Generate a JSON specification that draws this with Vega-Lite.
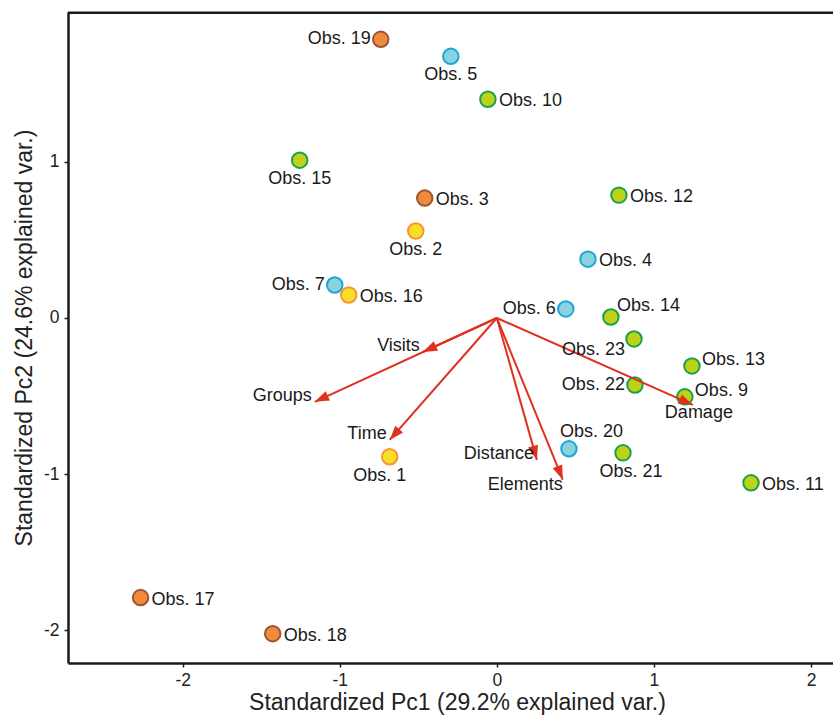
{
  "$schema": "https://vega.github.io/schema/vega-lite/v6.json",
  "width": 765,
  "height": 651,
  "autosize": "none",
  "padding": {"left": 68, "top": 12, "right": 0, "bottom": 57},
  "background": "white",
  "config": {
    "view": {"stroke": null},
    "font": "Liberation Sans",
    "axis": {
      "grid": false,
      "domainColor": "#1a1a1a",
      "domainWidth": 2.5,
      "tickColor": "#1a1a1a",
      "tickSize": 4,
      "tickWidth": 1.5,
      "labelFont": "Liberation Sans",
      "labelFontSize": 17.5,
      "labelColor": "#222222",
      "labelExpr": "replace(datum.label, '\u2212', '-')",
      "titleFont": "Liberation Sans",
      "titleFontSize": 23,
      "titleFontWeight": "normal",
      "titleColor": "#222222"
    }
  },
  "datasets": {
    "obs": [
      {"obs": "Obs. 1", "pc1": -0.682, "pc2": -0.889, "grp": "yellow", "pos": "belowleft2"},
      {"obs": "Obs. 2", "pc1": -0.516, "pc2": 0.557, "grp": "yellow", "pos": "below"},
      {"obs": "Obs. 3", "pc1": -0.459, "pc2": 0.768, "grp": "orange", "pos": "right"},
      {"obs": "Obs. 4", "pc1": 0.580, "pc2": 0.377, "grp": "blue", "pos": "right"},
      {"obs": "Obs. 5", "pc1": -0.293, "pc2": 1.676, "grp": "blue", "pos": "below"},
      {"obs": "Obs. 6", "pc1": 0.439, "pc2": 0.058, "grp": "blue", "pos": "left"},
      {"obs": "Obs. 7", "pc1": -1.032, "pc2": 0.211, "grp": "blue", "pos": "left"},
      {"obs": "Obs. 9", "pc1": 1.197, "pc2": -0.505, "grp": "green", "pos": "rightup"},
      {"obs": "Obs. 10", "pc1": -0.057, "pc2": 1.401, "grp": "green", "pos": "right"},
      {"obs": "Obs. 11", "pc1": 1.618, "pc2": -1.056, "grp": "green", "pos": "right"},
      {"obs": "Obs. 12", "pc1": 0.777, "pc2": 0.787, "grp": "green", "pos": "right"},
      {"obs": "Obs. 13", "pc1": 1.242, "pc2": -0.307, "grp": "green", "pos": "rightup"},
      {"obs": "Obs. 14", "pc1": 0.726, "pc2": 0.006, "grp": "green", "pos": "aboveright"},
      {"obs": "Obs. 15", "pc1": -1.255, "pc2": 1.011, "grp": "green", "pos": "below"},
      {"obs": "Obs. 16", "pc1": -0.943, "pc2": 0.147, "grp": "yellow", "pos": "right"},
      {"obs": "Obs. 17", "pc1": -2.268, "pc2": -1.791, "grp": "orange", "pos": "right"},
      {"obs": "Obs. 18", "pc1": -1.427, "pc2": -2.022, "grp": "orange", "pos": "right"},
      {"obs": "Obs. 19", "pc1": -0.739, "pc2": 1.785, "grp": "orange", "pos": "left"},
      {"obs": "Obs. 20", "pc1": 0.459, "pc2": -0.838, "grp": "blue", "pos": "above"},
      {"obs": "Obs. 21", "pc1": 0.803, "pc2": -0.864, "grp": "green", "pos": "belowright"},
      {"obs": "Obs. 22", "pc1": 0.879, "pc2": -0.429, "grp": "green", "pos": "left"},
      {"obs": "Obs. 23", "pc1": 0.873, "pc2": -0.134, "grp": "green", "pos": "belowleft"}
    ],
    "vars": [
      {"var": "Visits", "pc1": -0.471, "pc2": -0.218, "pos": "left"},
      {"var": "Groups", "pc1": -1.159, "pc2": -0.537, "pos": "left"},
      {"var": "Time", "pc1": -0.682, "pc2": -0.781, "pos": "left"},
      {"var": "Distance", "pc1": 0.255, "pc2": -0.909, "pos": "left"},
      {"var": "Elements", "pc1": 0.420, "pc2": -1.036, "pos": "leftlow"},
      {"var": "Damage", "pc1": 1.248, "pc2": -0.557, "pos": "below"}
    ],
    "frame": [{"top": 1.955}]
  },
  "encoding": {
    "x": {
      "field": "pc1", "type": "quantitative",
      "scale": {"domain": [-2.73, 2.14], "nice": false, "zero": false},
      "axis": {"values": [-2, -1, 0, 1, 2], "labelPadding": 4, "titlePadding": 3, "titleX": 389, "title": "Standardized Pc1 (29.2% explained var.)"}
    },
    "y": {
      "field": "pc2", "type": "quantitative",
      "scale": {"domain": [-2.21, 1.96], "nice": false, "zero": false},
      "axis": {"values": [-2, -1, 0, 1], "labelPadding": 5, "titlePadding": 7, "title": "Standardized Pc2 (24.6% explained var.)"}
    }
  },
  "layer": [
    {
      "data": {"name": "frame"},
      "mark": {"type": "rule", "color": "#1a1a1a", "strokeWidth": 2.5},
      "encoding": {"y": {"field": "top", "type": "quantitative"}, "x": null}
    },
    {
      "data": {"name": "obs"},
      "mark": {"type": "point", "filled": true, "opacity": 1, "size": 240, "strokeWidth": 2},
      "encoding": {
        "fill": {"field": "grp", "type": "nominal", "legend": null,
          "scale": {"domain": ["orange", "blue", "green", "yellow"], "range": ["#f08a3c", "#8ad3de", "#bfd21a", "#f7df25"]}},
        "stroke": {"field": "grp", "type": "nominal", "legend": null,
          "scale": {"domain": ["orange", "blue", "green", "yellow"], "range": ["#9c5535", "#1ba6da", "#1aa14a", "#f7952f"]}}
      }
    },
    {
      "data": {"values": [{}]},
      "mark": {"type": "rule", "color": "#1a1a1a", "strokeWidth": 2, "strokeDash": [2, 2]},
      "encoding": {"x": {"datum": 0}, "y": null}
    },
    {
      "data": {"values": [{}]},
      "mark": {"type": "rule", "color": "#1a1a1a", "strokeWidth": 2, "strokeDash": [2, 2]},
      "encoding": {"y": {"datum": 0}, "x": null}
    },
    {
      "data": {"name": "vars"},
      "mark": {"type": "rule", "color": "#e0301e", "strokeWidth": 2},
      "encoding": {"x2": {"datum": 0}, "y2": {"datum": 0}}
    },
    {
      "data": {"name": "vars"},
      "transform": [{"calculate": "atan2(datum.pc1, datum.pc2) * 180 / PI", "as": "ang"}],
      "mark": {"type": "point", "shape": "M0,0L-0.5,1.4L0.5,1.4Z", "filled": true, "color": "#e0301e", "opacity": 1, "size": 420, "strokeWidth": 0},
      "encoding": {"angle": {"field": "ang", "type": "quantitative", "scale": null}}
    },
    {
      "data": {"name": "vars"},
      "transform": [{"filter": "datum.pos == 'left'"}],
      "mark": {"type": "text", "align": "right", "baseline": "middle", "dx": -3, "dy": -6, "fontSize": 18, "color": "#1a1a1a"},
      "encoding": {"text": {"field": "var"}}
    },
    {
      "data": {"name": "vars"},
      "transform": [{"filter": "datum.pos == 'leftlow'"}],
      "mark": {"type": "text", "align": "right", "baseline": "middle", "dx": 0, "dy": 5, "fontSize": 18, "color": "#1a1a1a"},
      "encoding": {"text": {"field": "var"}}
    },
    {
      "data": {"name": "vars"},
      "transform": [{"filter": "datum.pos == 'below'"}],
      "mark": {"type": "text", "align": "center", "baseline": "middle", "dx": 6, "dy": 8, "fontSize": 18, "color": "#1a1a1a"},
      "encoding": {"text": {"field": "var"}}
    },
    {
      "data": {"name": "obs"},
      "transform": [{"filter": "datum.pos == 'right'"}],
      "mark": {"type": "text", "align": "left", "baseline": "middle", "dx": 11, "dy": 2, "fontSize": 18, "color": "#1a1a1a"},
      "encoding": {"text": {"field": "obs"}}
    },
    {
      "data": {"name": "obs"},
      "transform": [{"filter": "datum.pos == 'rightup'"}],
      "mark": {"type": "text", "align": "left", "baseline": "middle", "dx": 10, "dy": -6, "fontSize": 18, "color": "#1a1a1a"},
      "encoding": {"text": {"field": "obs"}}
    },
    {
      "data": {"name": "obs"},
      "transform": [{"filter": "datum.pos == 'left'"}],
      "mark": {"type": "text", "align": "right", "baseline": "middle", "dx": -10, "dy": 0, "fontSize": 18, "color": "#1a1a1a"},
      "encoding": {"text": {"field": "obs"}}
    },
    {
      "data": {"name": "obs"},
      "transform": [{"filter": "datum.pos == 'below'"}],
      "mark": {"type": "text", "align": "center", "baseline": "middle", "dx": 0, "dy": 19, "fontSize": 18, "color": "#1a1a1a"},
      "encoding": {"text": {"field": "obs"}}
    },
    {
      "data": {"name": "obs"},
      "transform": [{"filter": "datum.pos == 'belowright'"}],
      "mark": {"type": "text", "align": "center", "baseline": "middle", "dx": 8, "dy": 19, "fontSize": 18, "color": "#1a1a1a"},
      "encoding": {"text": {"field": "obs"}}
    },
    {
      "data": {"name": "obs"},
      "transform": [{"filter": "datum.pos == 'belowleft2'"}],
      "mark": {"type": "text", "align": "center", "baseline": "middle", "dx": -10, "dy": 19, "fontSize": 18, "color": "#1a1a1a"},
      "encoding": {"text": {"field": "obs"}}
    },
    {
      "data": {"name": "obs"},
      "transform": [{"filter": "datum.pos == 'above'"}],
      "mark": {"type": "text", "align": "left", "baseline": "middle", "dx": -9, "dy": -17, "fontSize": 18, "color": "#1a1a1a"},
      "encoding": {"text": {"field": "obs"}}
    },
    {
      "data": {"name": "obs"},
      "transform": [{"filter": "datum.pos == 'aboveright'"}],
      "mark": {"type": "text", "align": "left", "baseline": "middle", "dx": 6, "dy": -11, "fontSize": 18, "color": "#1a1a1a"},
      "encoding": {"text": {"field": "obs"}}
    },
    {
      "data": {"name": "obs"},
      "transform": [{"filter": "datum.pos == 'belowleft'"}],
      "mark": {"type": "text", "align": "right", "baseline": "middle", "dx": -9, "dy": 11, "fontSize": 18, "color": "#1a1a1a"},
      "encoding": {"text": {"field": "obs"}}
    }
  ]
}
